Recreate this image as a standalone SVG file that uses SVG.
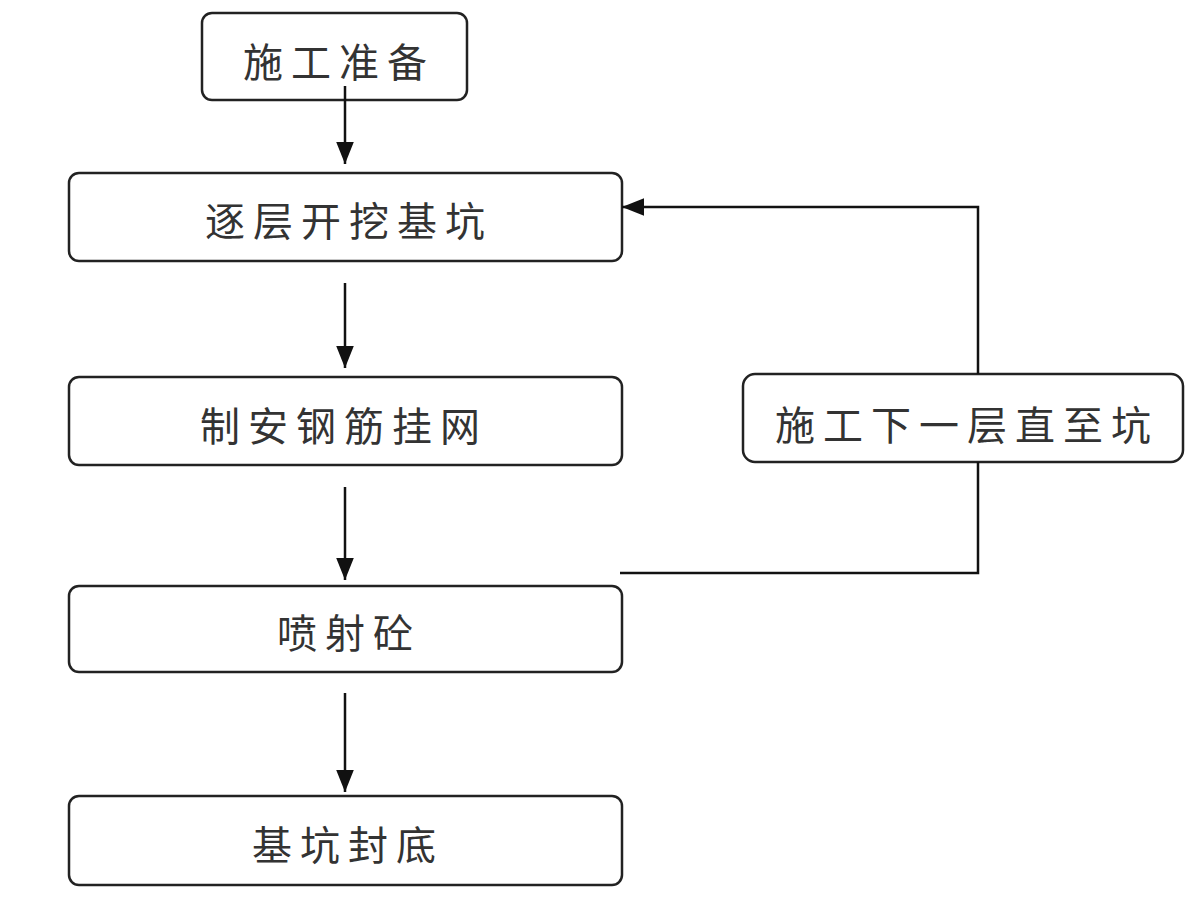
<svg xmlns="http://www.w3.org/2000/svg" width="1200" height="900" viewBox="0 0 1200 900">
<style>
.box{fill:#fff;stroke:#222;stroke-width:2.5}
.lbl{font-family:"Noto Sans CJK SC","Noto Sans CJK JP",sans-serif;font-size:40px;fill:#333;text-anchor:middle;dominant-baseline:central;letter-spacing:8px}
.ln{fill:none;stroke:#111;stroke-width:2.5}
</style>
<defs>
<marker id="ahb" viewBox="0 0 10 10" refX="10" refY="5" markerWidth="22" markerHeight="22" orient="auto" markerUnits="userSpaceOnUse">
<path d="M0,1 L10,5 L0,9 z" fill="#111"/>
</marker>
</defs>
<rect width="1200" height="900" fill="#fff"/>
<g id="n1"><rect class="box" x="202" y="13" width="265" height="87" rx="10"/><text class="lbl" x="339" y="60">施工准备</text></g>
<g id="n2"><rect class="box" x="69" y="173" width="553" height="88" rx="10"/><text class="lbl" x="349" y="219">逐层开挖基坑</text></g>
<g id="n3"><rect class="box" x="69" y="377" width="553" height="88" rx="10"/><text class="lbl" x="344" y="424">制安钢筋挂网</text></g>
<g id="n4"><rect class="box" x="69" y="586" width="553" height="86" rx="10"/><text class="lbl" x="349" y="631">喷射砼</text></g>
<g id="n5"><rect class="box" x="69" y="796" width="553" height="89" rx="10"/><text class="lbl" x="348" y="843">基坑封底</text></g>
<g id="n6"><rect class="box" x="743" y="374" width="440" height="88" rx="12"/><text class="lbl" x="967" y="423">施工下一层直至坑</text></g>
<g id="connectors">
<line class="ln" x1="345" y1="86" x2="345" y2="164" marker-end="url(#ahb)"/>
<line class="ln" x1="345" y1="283" x2="345" y2="368" marker-end="url(#ahb)"/>
<line class="ln" x1="345" y1="487" x2="345" y2="580" marker-end="url(#ahb)"/>
<line class="ln" x1="345" y1="693" x2="345" y2="792" marker-end="url(#ahb)"/>
<polyline class="ln" points="620,573 978,573 978,462"/>
<polyline class="ln" points="978,374 978,207 622,207" marker-end="url(#ahb)"/>
</g>
</svg>
